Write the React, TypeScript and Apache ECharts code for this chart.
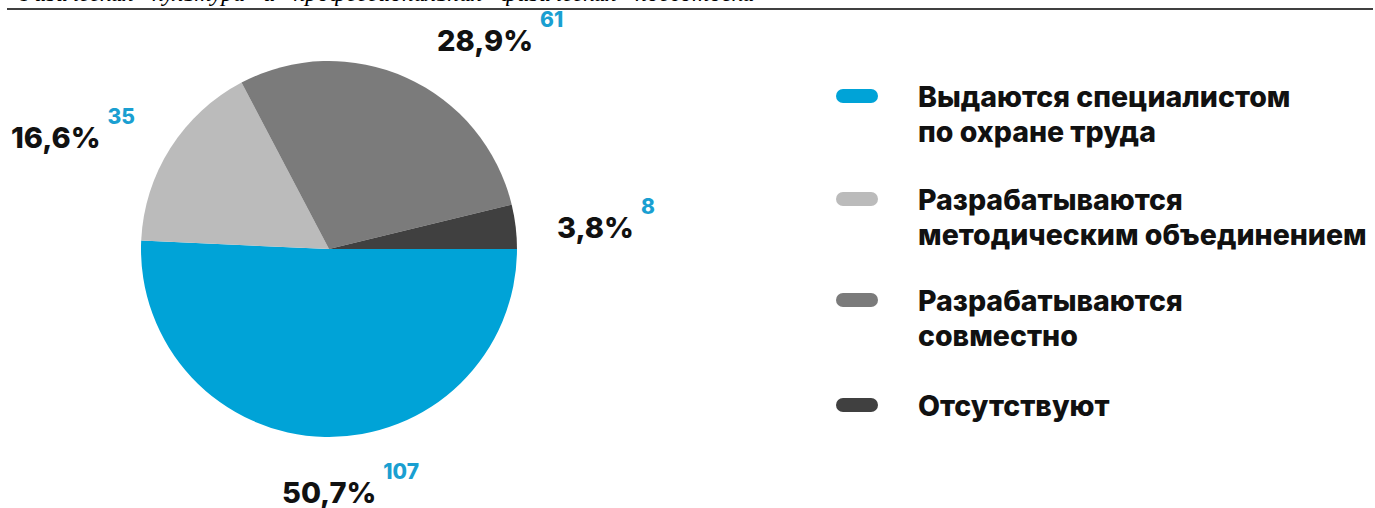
import React, { useEffect, useRef } from "react";
import * as echarts from "echarts";

const categories = [
  "Выдаются специалистом\nпо охране труда",
  "Разрабатываются\nметодическим объединением",
  "Разрабатываются\nсовместно",
  "Отсутствуют",
];
const counts = [107, 35, 61, 8];
const colors = ["#00a3d7", "#bbbbbb", "#7b7b7b", "#404040"];
const headerText = "Физическая   культура   и   профессиональная   физическая   подготовка";

// label anchor (left x, center y) for each slice's label
const labelAnchors: [number, number][] = [
  [282, 492],
  [11, 137],
  [437, 40],
  [557, 227],
];
// icon-center y for each legend item
const legendCenters = [96, 199, 300, 405];

const FONT = "Inter, 'Noto Sans', sans-serif";

export default function App() {
  const ref = useRef<HTMLDivElement>(null);
  useEffect(() => {
    document.body.style.margin = "0";
    const chart = echarts.init(ref.current!, undefined, { renderer: "svg" });
    const total = counts.reduce((a, b) => a + b, 0);
    const pct = (v: number) => ((v / total) * 100).toFixed(1).replace(".", ",") + "%";

    const lh = 35;
    const legends = categories.map((name, i) => {
      const lines = name.split("\n").length;
      const shown = lines > 1 ? 2 * lines - 1 : 1;
      const boxH = shown * lh;
      return {
        orient: "vertical",
        left: 836,
        top: legendCenters[i] - boxH / 2,
        padding: 0,
        selectedMode: false,
        itemWidth: 42,
        itemHeight: 14,
        icon: "path://M7,0 H35 A7,7 0 0 1 35,14 H7 A7,7 0 0 1 7,0 Z",
        data: [name],
        formatter: (n: string) => (n.indexOf("\n") >= 0 ? "\n".repeat(n.split("\n").length - 1) + n : n),
        textStyle: {
          fontFamily: FONT,
          fontSize: 28.5,
          fontWeight: 800,
          color: "#111111",
          lineHeight: lh,
          padding: [0, 0, 0, 35],
        },
      };
    });

    chart.setOption({
      animation: false,
      color: colors,
      legend: legends,
      graphic: [
        {
          type: "text",
          left: 15,
          top: -19,
          style: {
            text: headerText,
            font: "italic 24px 'Liberation Serif', 'DejaVu Serif', serif",
            fill: "#000",
          },
        },
        {
          type: "line",
          shape: { x1: 7, y1: 9, x2: 1373, y2: 9 },
          style: { stroke: "#000", lineWidth: 1.5 },
        },
      ],
      series: [
        {
          type: "pie",
          center: [329, 249],
          radius: 188,
          startAngle: 0,
          clockwise: true,
          emphasis: { disabled: true },
          labelLine: { show: false },
          label: {
            show: true,
            position: "outside",
            overflow: "none",
            formatter: (p: any) => `{p|${pct(p.value)}}{n|${p.value}}`,
            rich: {
              p: {
                fontFamily: FONT,
                fontSize: 29,
                fontWeight: 800,
                color: "#111111",
              },
              n: {
                fontFamily: FONT,
                fontSize: 21,
                fontWeight: 800,
                color: "#1a9fd1",
                padding: [0, 0, 42, 7],
              },
            },
          },
          labelLayout: (params: any) => ({
            x: labelAnchors[params.dataIndex][0],
            y: labelAnchors[params.dataIndex][1],
            align: "left",
            verticalAlign: "middle",
          }),
          data: categories.map((name, i) => ({ name, value: counts[i] })),
        },
      ],
    });
    return () => chart.dispose();
  }, []);
  return <div ref={ref} style={{ width: 1375, height: 508 }} />;
}
